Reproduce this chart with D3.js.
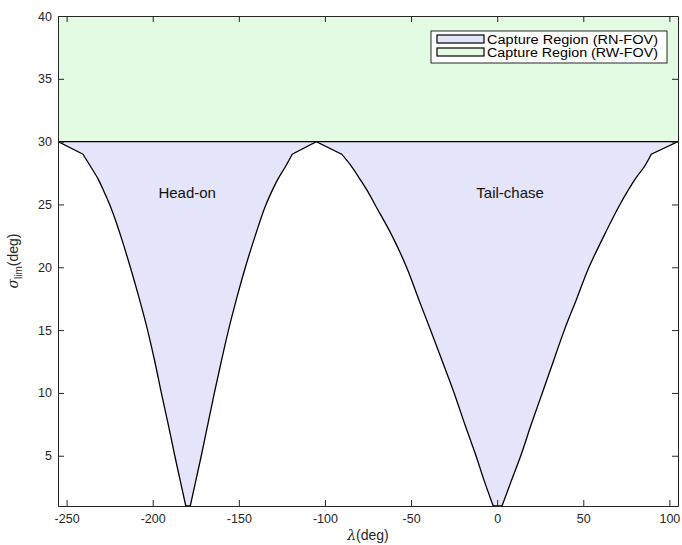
<!DOCTYPE html>
<html>
<head>
<meta charset="utf-8">
<script src="https://cdn.jsdelivr.net/npm/d3@7"></script>
<style>
  body { margin: 0; background: #fff; }
  svg text { font-family: "Liberation Sans", Arial, sans-serif; }
</style>
</head>
<body>
<div id="chart"></div>
<script>
// sigma levels where the capture boundary was read (deg)
const sigmaLevels = [1, 3, 5, 7.5, 10, 12.5, 15, 17.5, 20, 22.5, 25, 26, 27, 28, 29];
// head-on region boundaries (lambda, deg)
const headOnLeft  = [-180.8, -184, -187.2, -191, -195, -198.8, -203, -207.8, -213, -218.6, -225, -228.2, -231.6, -236, -240.5];
const headOnRight = [-178.2, -175, -171.8, -168, -164.2, -160.2, -156, -151.3, -146.2, -140.5, -134.2, -131, -127.4, -123, -119];
// tail-chase region boundaries (lambda, deg)
const tailLeft  = [-2.3, -7.5, -12.3, -18.8, -25, -31.8, -38.7, -45.7, -52.6, -61, -71, -75, -79.6, -84.4, -90.3];
const tailRight = [2.8, 8.2, 13.7, 19.8, 26.2, 32.6, 39, 46.2, 53.3, 62, 71.3, 75.5, 80, 85.4, 89.5];
// peaks where the boundary meets the RW-FOV limit
const peakLambda = [-255, -105, 105];
const sigmaMax = 30;

const xTicks = [-250, -200, -150, -100, -50, 0, 50, 100];
const yTicks = [5, 10, 15, 20, 25, 30, 35, 40];
const legendLabels = ['Capture Region (RN-FOV)', 'Capture Region (RW-FOV)'];
const regionLabels = [
  { text: 'Head-on', lambda: -180, sigma: 25.5 },
  { text: 'Tail-chase', lambda: 7.5, sigma: 25.5 }
];

const W = 682, H = 545;
const margin = { top: 16, right: 4, bottom: 39, left: 58 };
const width = W - margin.left - margin.right;
const height = H - margin.top - margin.bottom;

const svg = d3.select('#chart').append('svg')
  .attr('width', W).attr('height', H);
const g = svg.append('g').attr('transform', `translate(${margin.left},${margin.top})`);

const x = d3.scaleLinear().domain([-255, 105]).range([0, width]);
const y = d3.scaleLinear().domain([1, 40]).range([height, 0]);

svg.append('clipPath').attr('id', 'clip')
  .append('rect').attr('width', width).attr('height', height);

// boundary: smooth branches, straight joins to the peaks
const lin = d3.line().x(d => x(d[0])).y(d => y(d[1]));
const smooth = d3.line().x(d => x(d[0])).y(d => y(d[1])).curve(d3.curveMonotoneY);
const branch = (lams, down) => {
  const pts = sigmaLevels.map((s, i) => [lams[i], s]);
  return down ? pts.reverse() : pts;
};
const pieces = [
  [lin, [[peakLambda[0], sigmaMax], [headOnLeft[14], 29]]],
  [smooth, branch(headOnLeft, true)],
  [lin, [[headOnLeft[0], 1], [headOnRight[0], 1]]],
  [smooth, branch(headOnRight, false)],
  [lin, [[headOnRight[14], 29], [peakLambda[1], sigmaMax], [tailLeft[14], 29]]],
  [smooth, branch(tailLeft, true)],
  [lin, [[tailLeft[0], 1], [tailRight[0], 1]]],
  [smooth, branch(tailRight, false)],
  [lin, [[tailRight[14], 29], [peakLambda[2], sigmaMax]]]
];
const boundaryPath = pieces.map(([gen, pts], i) => {
  const d = gen(pts);
  return i === 0 ? d : 'L' + d.slice(1);
}).join('');

const plot = g.append('g').attr('clip-path', 'url(#clip)');

// RW-FOV region (above the limit)
plot.append('rect')
  .attr('x', x(-255)).attr('y', y(40))
  .attr('width', x(105) - x(-255)).attr('height', y(sigmaMax) - y(40))
  .attr('fill', '#e2fbe2');

// RN-FOV region
plot.append('path')
  .attr('d', boundaryPath + 'Z')
  .attr('fill', '#e4e4fb');

plot.append('path')
  .attr('d', boundaryPath)
  .attr('fill', 'none').attr('stroke', '#000').attr('stroke-width', 1.3);

plot.append('path')
  .attr('d', lin([[-255, sigmaMax], [105, sigmaMax]]))
  .attr('stroke', '#000').attr('stroke-width', 1.3);

// axes (box with inward ticks)
function styleAxis(sel) {
  sel.selectAll('path.domain').attr('stroke', '#262626').attr('stroke-width', 1);
  sel.selectAll('.tick line').attr('stroke', '#262626');
  sel.selectAll('.tick text').attr('fill', '#262626').style('font-size', '12.5px')
    .style('font-family', '"Liberation Sans", Arial, sans-serif');
}
const fmt = d => String(d);

g.append('g').attr('transform', `translate(0,${height})`)
  .call(d3.axisBottom(x).tickValues(xTicks).tickFormat(fmt).tickSizeInner(-6).tickSizeOuter(0).tickPadding(8))
  .call(styleAxis);
g.append('g')
  .call(d3.axisTop(x).tickValues(xTicks).tickSizeInner(-6).tickSizeOuter(0).tickFormat(''))
  .call(styleAxis);
g.append('g')
  .call(d3.axisLeft(y).tickValues(yTicks).tickFormat(fmt).tickSizeInner(-6).tickSizeOuter(0).tickPadding(6))
  .call(styleAxis);
g.append('g').attr('transform', `translate(${width},0)`)
  .call(d3.axisRight(y).tickValues(yTicks).tickSizeInner(-6).tickSizeOuter(0).tickFormat(''))
  .call(styleAxis);

// region labels
g.selectAll('.region-label').data(regionLabels).enter().append('text')
  .attr('class', 'region-label')
  .attr('x', d => x(d.lambda)).attr('y', d => y(d.sigma))
  .attr('text-anchor', 'middle')
  .style('font-size', '15px').attr('fill', '#111')
  .text(d => d.text);

// axis labels
svg.append('text')
  .attr('x', 368).attr('y', 540).attr('text-anchor', 'middle')
  .attr('fill', '#262626').style('font-size', '14px')
  .html('<tspan font-family="DejaVu Serif" font-style="italic">λ</tspan>(deg)');

const yl = svg.append('text')
  .attr('transform', `translate(18,${margin.top + height / 2}) rotate(-90)`)
  .attr('text-anchor', 'middle')
  .attr('fill', '#262626').style('font-size', '14px');
yl.append('tspan').attr('font-family', 'DejaVu Serif').attr('font-style', 'italic').text('σ');
yl.append('tspan').attr('dy', 4).style('font-size', '10px').text('lim');
yl.append('tspan').attr('dy', -4).text('(deg)');

// legend
const lg = svg.append('g').attr('transform', 'translate(431,31)');
lg.append('rect').attr('width', 236).attr('height', 32)
  .attr('fill', '#fff').attr('stroke', '#262626').attr('stroke-width', 1);
const legendColors = ['#e4e4fb', '#e2fbe2'];
legendLabels.forEach((lab, i) => {
  lg.append('rect').attr('x', 6).attr('y', 4 + i * 13).attr('width', 47).attr('height', 8)
    .attr('fill', legendColors[i]).attr('stroke', '#000').attr('stroke-width', 1.2);
  lg.append('text').attr('x', 56).attr('y', 12.5 + i * 13)
    .style('font-size', '12px').attr('fill', '#000')
    .attr('textLength', 171).attr('lengthAdjust', 'spacingAndGlyphs')
    .text(lab);
});
</script>
</body>
</html>
